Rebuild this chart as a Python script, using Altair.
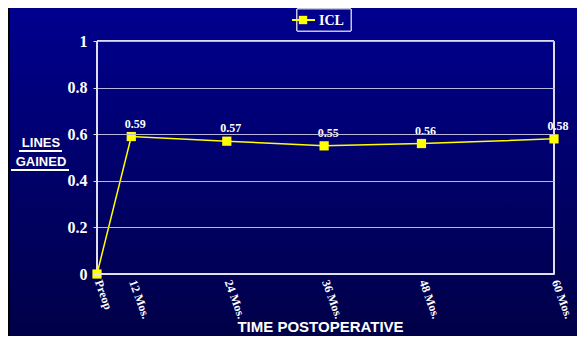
import altair as alt
import pandas as pd

# ---- data ----
categories = ["Preop", "12 Mos.", "24 Mos.", "36 Mos.", "48 Mos.", "60 Mos."]
x_position = [0, 7.5, 28.4, 49.7, 71.0, 100]   # positions along the time axis as drawn
lines_gained = [0.0, 0.59, 0.57, 0.55, 0.56, 0.58]
series_name = "ICL"
y_ticks = [0, 0.2, 0.4, 0.6, 0.8, 1]

df = pd.DataFrame({"cat": categories, "x": x_position, "y": lines_gained})
df["lbl"] = [f"{v:.2f}" if v > 0 else "" for v in lines_gained]

W, H = 457, 233
PAD = {"left": 89, "top": 33, "right": 23, "bottom": 62}
TOTAL_R = W + PAD["right"]
TOTAL_B = H + PAD["bottom"]

YELLOW = "#FFFF00"
SERIF = "Liberation Serif"
SANS = "Liberation Sans"
LINE_C = "#E0E0F0"

label_expr = " : ".join(
    f"datum.value == {p} ? '{c}'" for p, c in zip(x_position, categories)
) + " : ''"

xscale = alt.Scale(domain=[0, 100], nice=False, zero=False)
yscale = alt.Scale(domain=[0, 1], nice=False)

xenc = alt.X(
    "x:Q", scale=xscale,
    axis=alt.Axis(
        values=x_position, labelExpr=label_expr, ticks=False, grid=False,
        domain=True, domainColor=LINE_C, zindex=2,
        labelAngle=70, labelAlign="left", labelBaseline="middle",
        labelFont=SERIF, labelFontWeight="bold", labelFontSize=12,
        labelColor="white", labelPadding=6, labelOffset=1, labelOverlap=False,
        labelFlush=False,
        title="TIME POSTOPERATIVE", titleFont=SANS, titleFontWeight="bold",
        titleFontSize=15, titleColor="white", titleX=223, titleY=52,
        titleAlign="center", titleBaseline="middle",
    ),
)
yenc = alt.Y(
    "y:Q", scale=yscale,
    axis=alt.Axis(
        values=y_ticks, labelExpr="format(datum.value, '~g')",
        grid=True, gridColor="#B8B8DC", gridWidth=1, zindex=1,
        domain=True, domainColor=LINE_C,
        ticks=True, tickSize=4, tickColor=LINE_C,
        labelFont=SERIF, labelFontWeight="bold", labelFontSize=16,
        labelColor="white", labelPadding=6, title=None,
    ),
)

bg = alt.Chart(df).mark_rect(
    color=alt.LinearGradient(
        gradient="linear", x1=0, x2=0, y1=0, y2=1,
        stops=[alt.GradientStop(offset=0, color="#00008E"),
               alt.GradientStop(offset=1, color="#000048")],
    )
).encode(x=alt.value(-89), x2=alt.value(TOTAL_R), y=alt.value(-33), y2=alt.value(TOTAL_B))

border = alt.Chart(df).mark_rect(color="black").encode(
    x=alt.value(-89), x2=alt.value(-87), y=alt.value(-33), y2=alt.value(TOTAL_B)
)

frame = alt.Chart(df).mark_rect(fill=None, stroke=LINE_C, strokeWidth=1).encode(
    x=alt.value(0), x2=alt.value(W), y=alt.value(0), y2=alt.value(H)
)

line = alt.Chart(df).mark_line(color=YELLOW, strokeWidth=1.5).encode(x=xenc, y=yenc)
pts = alt.Chart(df).mark_square(color=YELLOW, size=85, opacity=1).encode(x="x:Q", y="y:Q")
labels = alt.Chart(df).mark_text(
    font=SERIF, fontWeight="bold", fontSize=12, color="white", dy=-13, dx=4
).encode(x="x:Q", y="y:Q", text="lbl:N")

# y-axis title with underlines
def title_text(t, yv):
    return alt.Chart(pd.DataFrame({"t": [t]})).mark_text(
        font=SANS, fontWeight="bold", fontSize=13, color="white",
        align="center", baseline="middle"
    ).encode(x=alt.value(-56), y=alt.value(yv), text="t:N")

yt1 = title_text("LINES", 102)
yt2 = title_text("GAINED", 121)
ul1 = alt.Chart(df).mark_rule(color="white", strokeWidth=1.5).encode(
    x=alt.value(-78), x2=alt.value(-35), y=alt.value(110)
)
ul2 = alt.Chart(df).mark_rule(color="white", strokeWidth=1.5).encode(
    x=alt.value(-86), x2=alt.value(-28), y=alt.value(129)
)

# legend
leg_box = alt.Chart(df).mark_rect(fill="#00008C", stroke="#C8C8E0", strokeWidth=1).encode(
    x=alt.value(200), x2=alt.value(254), y=alt.value(-32), y2=alt.value(-10)
)
leg_line = alt.Chart(df).mark_rule(color=YELLOW, strokeWidth=1.5).encode(
    x=alt.value(195), x2=alt.value(218), y=alt.value(-21)
)
leg_sq = alt.Chart(pd.DataFrame({"s": [series_name]})).mark_square(
    color=YELLOW, size=70, opacity=1
).encode(x=alt.value(206), y=alt.value(-21))
leg_txt = alt.Chart(pd.DataFrame({"s": [series_name]})).mark_text(
    font=SERIF, fontWeight="bold", fontSize=14, color="white", align="left", baseline="middle"
).encode(x=alt.value(222), y=alt.value(-20), text="s:N")

chart = alt.layer(
    bg, border, frame, line, pts, labels, yt1, yt2, ul1, ul2,
    leg_box, leg_line, leg_sq, leg_txt,
).properties(
    width=W, height=H, padding=PAD,
    autosize=alt.AutoSizeParams(type="none"),
).configure_view(stroke=None).configure(background="#000070")

chart.save("out.html", embed_options={"renderer": "svg", "actions": False})
